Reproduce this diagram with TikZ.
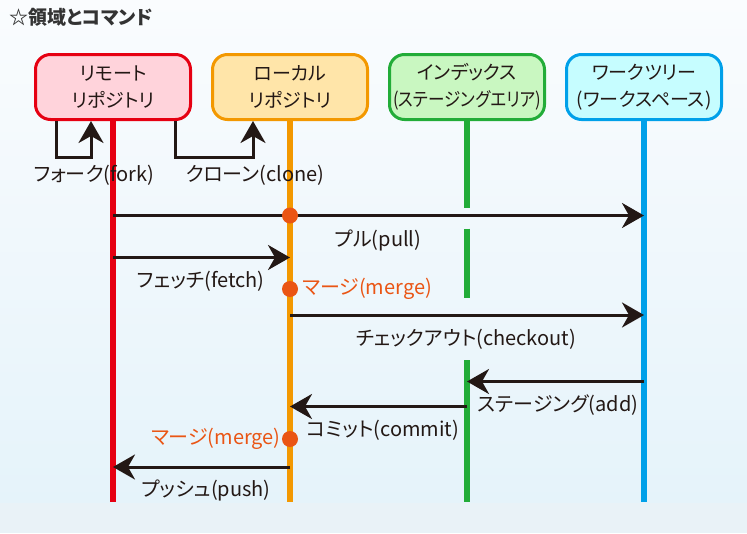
\documentclass[tikz,border=0pt]{standalone}
\usepackage{fontspec}
\setmainfont{Noto Sans CJK JP}[RawFeature=+palt]
\usetikzlibrary{arrows.meta}
\usetikzlibrary{positioning}
\definecolor{ink}{HTML}{231815}
\definecolor{titlegray}{HTML}{333333}
\definecolor{remred}{HTML}{E60012}
\definecolor{rempink}{HTML}{FFD3DB}
\definecolor{locorange}{HTML}{F39800}
\definecolor{locyellow}{HTML}{FFE5A9}
\definecolor{idxgreen}{HTML}{22AC38}
\definecolor{idxlight}{HTML}{C9F7C1}
\definecolor{wtblue}{HTML}{00A0E9}
\definecolor{wtlight}{HTML}{C6FDFF}
\definecolor{mergeorange}{HTML}{EA5514}
\definecolor{bgtop}{HTML}{FAFCFE}
\definecolor{bgbottom}{HTML}{E5F3FA}
\definecolor{bgband}{HTML}{E9F2F7}
\tikzset{area/.style = {draw, rounded corners = 15, line width = 3, minimum width = 155, minimum height = 65, align = center, text = ink, font = \fontsize{19}{27}\selectfont}}
\tikzset{lifeline/.style = {line width = 6}}
\tikzset{cmd/.style = {draw = ink, line width = 3, -{Stealth[length = 22pt, width = 25pt, inset = 7pt]}}}
\tikzset{cmdlabel/.style = {text = ink, font = \fontsize{20}{22}\selectfont, inner sep = 0}}
\tikzset{mergedot/.style = {fill = mergeorange, circle, inner sep = 0, minimum size = 16}}

\begin{document}
\begin{tikzpicture}[x = 1pt, y = -1pt]
  \useasboundingbox (0, 0) rectangle (747, 533);
  \shade [top color = bgtop, bottom color = bgbottom] (0, 0) rectangle (747, 503);
  \fill [bgband] (0, 503) rectangle (747, 533);

  \node [anchor = west, text = titlegray, font = \fontsize{19}{21}\selectfont\bfseries] (title) at (6, 17) {☆領域とコマンド};

  % areas
  \node [area, draw = remred, fill = rempink] (remote) at (113, 87) {リモート\\リポジトリ};
  \node [area, draw = locorange, fill = locyellow, right = 19pt of remote] (local) {ローカル\\リポジトリ};
  \node [area, draw = idxgreen, fill = idxlight, right = 19pt of local] (index) {インデックス\\\scalebox{0.87}[1]{(ステージングエリア)}};
  \node [area, draw = wtblue, fill = wtlight, right = 19pt of index] (worktree) {ワークツリー\\(ワークスペース)};

  % rows
  \coordinate (forkrow) at (0, 157);
  \coordinate (pullrow) at (0, 215.5);
  \coordinate (fetchrow) at (0, 257.5);
  \coordinate (mergearow) at (0, 289);
  \coordinate (checkoutrow) at (0, 315);
  \coordinate (addrow) at (0, 381.5);
  \coordinate (commitrow) at (0, 406.5);
  \coordinate (mergebrow) at (0, 439);
  \coordinate (pushrow) at (0, 467);
  \coordinate (bottom) at (0, 502);

  % lifelines
  \foreach \n/\c in {remote/remred, local/locorange, worktree/wtblue} {
    \draw [lifeline, \c] (\n.south) -- (\n.south |- bottom);
  }
  \coordinate (gapa) at (0, 207.5);
  \coordinate (gapb) at (0, 228.5);
  \coordinate (gapc) at (0, 298);
  \coordinate (gapd) at (0, 360);
  \draw [lifeline, idxgreen] (index.south) -- (index.south |- gapa);
  \draw [lifeline, idxgreen] (index.south |- gapb) -- (index.south |- gapc);
  \draw [lifeline, idxgreen] (index.south |- gapd) -- (index.south |- bottom);

  % fork and clone
  \coordinate (forkstart) at ([xshift = -57pt] remote.south);
  \coordinate (forkend) at ([xshift = -22pt] remote.south);
  \coordinate (clonestart) at ([xshift = 62pt] remote.south);
  \coordinate (cloneend) at ([xshift = -37pt] local.south);
  \draw [cmd] (forkstart) -- (forkstart |- forkrow) -| (forkend);
  \draw [cmd] (clonestart) -- (clonestart |- forkrow) -| (cloneend);
  \node [cmdlabel] (forklabel) at (94, 175) {フォーク(fork)};
  \node [cmdlabel] (clonelabel) at (255, 175) {クローン(clone)};

  % commands
  \draw [cmd] (remote |- pullrow) -- (worktree |- pullrow);
  \draw [cmd] (remote |- fetchrow) -- (local |- fetchrow);
  \draw [cmd] (local |- checkoutrow) -- (worktree |- checkoutrow);
  \draw [cmd] (worktree |- addrow) -- (index |- addrow);
  \draw [cmd] (index |- commitrow) -- (local |- commitrow);
  \draw [cmd] (local |- pushrow) -- (remote |- pushrow);

  \node [mergedot] (pulldot) at (local |- pullrow) {};
  \node [mergedot] (mergea) at (local |- mergearow) {};
  \node [mergedot] (mergeb) at (local |- mergebrow) {};

  \node [cmdlabel] (pulllabel) at (378, 240) {プル(pull)};
  \node [cmdlabel] (fetchlabel) at (201, 281) {フェッチ(fetch)};
  \node [cmdlabel, text = mergeorange, right = 4pt of mergea] (mergealabel) {マージ(merge)};
  \node [cmdlabel] (checkoutlabel) at (466, 339) {チェックアウト(checkout)};
  \node [cmdlabel] (addlabel) at (558, 405) {ステージング(add)};
  \node [cmdlabel] (commitlabel) at (383, 430) {コミット(commit)};
  \node [cmdlabel, text = mergeorange, left = 1pt of mergeb] (mergeblabel) {マージ(merge)};
  \node [cmdlabel] (pushlabel) at (206, 490) {プッシュ(push)};
\end{tikzpicture}
\end{document}
